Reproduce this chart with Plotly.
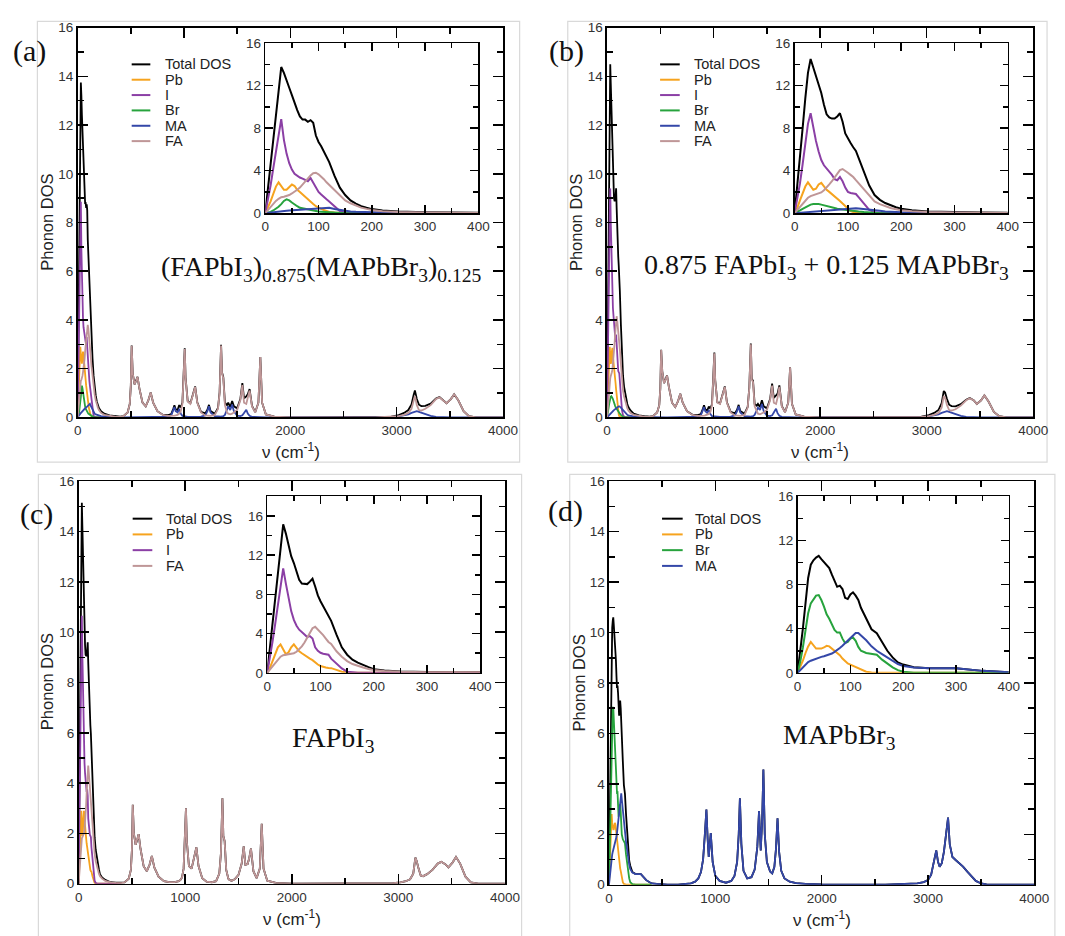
import plotly.graph_objects as go

W, H = 1065, 936

# ---------------- data ----------------
# low-frequency grid (cm^-1), shared by all panels
LOW_X = [0, 5, 10, 15, 20, 25, 30, 35, 40, 45, 50, 55, 60, 65, 70, 75, 80, 85, 90, 95,
         100, 105, 110, 115, 120, 130, 140, 150, 160, 170, 180, 190, 200, 220, 250, 300, 350, 400]

# high-frequency grid for panels (a), (b), (c)
HIGH_X = [430, 470, 490, 500, 508, 518, 535, 550, 563, 580,
          610, 640, 665, 687, 710, 750, 800, 850, 880, 900,
          910, 922, 940, 955, 970, 985, 1000, 1007, 1015, 1035,
          1060, 1085, 1105, 1125, 1160, 1200, 1220, 1235, 1250, 1290,
          1320, 1335, 1349, 1358, 1370, 1385, 1405, 1416, 1435, 1453,
          1470, 1500, 1530, 1549, 1565, 1586, 1600, 1617, 1640, 1670,
          1700, 1718, 1735, 1770, 1850, 2000, 2800, 2950, 3020, 3070,
          3110, 3140, 3160, 3172, 3190, 3210, 3233, 3270, 3320, 3370,
          3403, 3440, 3470, 3510, 3541, 3580, 3630, 3680, 3750, 4000]

# high-frequency grid for panel (d)
D_HIGH_X = [450, 550, 650, 720, 770, 810, 840, 865, 885, 900,
            916, 928, 938, 957, 975, 1000, 1040, 1100, 1150, 1180,
            1205, 1220, 1231, 1245, 1265, 1300, 1340, 1370, 1395, 1411,
            1420, 1427, 1440, 1452, 1465, 1485, 1515, 1535, 1555, 1570,
            1585, 1600, 1620, 1650, 1700, 1760, 1850, 2000, 2600, 2800,
            2900, 2960, 3000, 3030, 3060, 3078, 3095, 3110, 3130, 3150,
            3170, 3189, 3205, 3230, 3260, 3290, 3330, 3370, 3410, 3450,
            3500, 3550, 3650, 4000]

# ---- panel (a): (FAPbI3)0.875(MAPbBr3)0.125 ----
A_TOTAL_LOW = [0, 2.3, 4.7, 7.1, 9.4, 11.8, 13.75, 13.2, 12.4, 11.8, 11.1, 10.3, 9.7, 9.1, 8.8, 8.8, 8.6, 8.75, 8.5, 7.3,
               6.7, 6.3, 5.8, 5.35, 4.8, 3.5, 2.4, 1.7, 1.2, 0.9, 0.65, 0.5, 0.38, 0.25, 0.15, 0.08, 0.05, 0.03]
A_PB_LOW = [0, 0.5, 1.1, 1.8, 2.5, 2.9, 2.6, 2.2, 2.2, 2.5, 2.7, 2.55, 2.2, 2.0, 1.75, 1.55, 1.3, 1.05, 0.85, 0.65,
            0.5, 0.4, 0.3, 0.2, 0.12, 0.05, 0.02, 0, 0, 0, 0, 0, 0, 0, 0, 0, 0, 0]
A_I_LOW = [0, 1.2, 2.6, 4.2, 5.9, 7.6, 8.85, 6.9, 5.6, 4.7, 4.1, 3.7, 3.5, 3.35, 3.25, 3.1, 3.0, 3.3, 2.9, 2.4,
           2.0, 1.75, 1.5, 1.3, 1.1, 0.6, 0.2, 0.05, 0.02, 0, 0, 0, 0, 0, 0, 0, 0, 0]
A_BR_LOW = [0, 0.05, 0.12, 0.25, 0.4, 0.6, 0.85, 1.15, 1.3, 1.2, 1.0, 0.8, 0.65, 0.5, 0.45, 0.35, 0.3, 0.25, 0.2, 0.18,
            0.15, 0.14, 0.12, 0.1, 0.08, 0.05, 0.02, 0, 0, 0, 0, 0, 0, 0, 0, 0, 0, 0]
A_MA_LOW = [0, 0.02, 0.05, 0.08, 0.12, 0.15, 0.18, 0.2, 0.22, 0.25, 0.27, 0.3, 0.32, 0.35, 0.37, 0.38, 0.4, 0.42, 0.42, 0.43,
            0.45, 0.48, 0.52, 0.55, 0.5, 0.4, 0.3, 0.22, 0.15, 0.12, 0.1, 0.08, 0.07, 0.05, 0.04, 0.02, 0.01, 0]
A_FA_LOW = [0, 0.3, 0.6, 0.9, 1.15, 1.35, 1.5, 1.55, 1.6, 1.7, 1.85, 2.0, 2.2, 2.4, 2.7, 3.0, 3.3, 3.55, 3.75, 3.8,
            3.65, 3.45, 3.2, 2.9, 2.65, 2.1, 1.6, 1.2, 0.93, 0.7, 0.52, 0.4, 0.3, 0.18, 0.1, 0.05, 0.03, 0.02]
A_FA_HIGH = [0.05, 0.2, 0.55, 1.3, 2.94, 1.8, 1.35, 1.5, 1.66, 1.2,
             0.6, 0.45, 0.7, 1.02, 0.6, 0.25, 0.1, 0.06, 0.05, 0.06,
             0.07, 0.08, 0.1, 0.15, 0.25, 0.55, 2.0, 2.8, 1.6, 0.65,
             0.55, 0.9, 1.25, 0.6, 0.2, 0.08, 0.06, 0.06, 0.06, 0.1,
             0.35, 1.0, 2.95, 1.8, 1.6, 0.5, 0.2, 0.15, 0.12, 0.15,
             0.2, 0.3, 0.7, 1.32, 0.6, 0.55, 0.8, 1.1, 0.45, 0.2,
             0.6, 2.48, 0.6, 0.12, 0.03, 0.0, 0.0, 0.02, 0.05, 0.1,
             0.18, 0.35, 0.7, 0.88, 0.5, 0.3, 0.28, 0.35, 0.5, 0.75,
             0.82, 0.7, 0.58, 0.75, 0.94, 0.7, 0.25, 0.05, 0.0, 0.0]
A_MA_HIGH = [0, 0, 0, 0, 0, 0, 0, 0, 0, 0,
             0, 0, 0, 0, 0, 0, 0.01, 0.03, 0.08, 0.3,
             0.42, 0.25, 0.2, 0.35, 0.15, 0.06, 0.04, 0.03, 0.03, 0.02,
             0.02, 0.02, 0.02, 0.02, 0.03, 0.08, 0.25, 0.45, 0.2, 0.05,
             0.03, 0.03, 0.03, 0.04, 0.05, 0.1, 0.3, 0.45, 0.3, 0.52,
             0.25, 0.07, 0.05, 0.08, 0.18, 0.31, 0.15, 0.06, 0.02, 0.01,
             0, 0, 0, 0, 0, 0, 0, 0.01, 0.04, 0.08,
             0.12, 0.18, 0.22, 0.24, 0.25, 0.22, 0.18, 0.12, 0.06, 0.02,
             0.01, 0, 0, 0, 0, 0, 0, 0, 0, 0]
A_TOTAL_HIGH = [0.05, 0.2, 0.55, 1.3, 2.95, 1.8, 1.35, 1.5, 1.66, 1.2,
                0.6, 0.45, 0.7, 1.02, 0.6, 0.25, 0.11, 0.09, 0.13, 0.36,
                0.49, 0.33, 0.3, 0.5, 0.4, 0.6, 2.04, 2.83, 1.63, 0.67,
                0.57, 0.92, 1.27, 0.62, 0.23, 0.16, 0.31, 0.51, 0.26, 0.15,
                0.38, 1.03, 2.98, 1.84, 1.65, 0.6, 0.5, 0.6, 0.42, 0.67,
                0.45, 0.37, 0.75, 1.4, 0.78, 0.86, 0.95, 1.16, 0.47, 0.21,
                0.6, 2.48, 0.6, 0.12, 0.03, 0.0, 0.0, 0.03, 0.09, 0.18,
                0.3, 0.53, 0.92, 1.1, 0.75, 0.52, 0.46, 0.47, 0.56, 0.77,
                0.83, 0.7, 0.58, 0.75, 0.94, 0.7, 0.25, 0.05, 0.0, 0.0]

# ---- panel (b): 0.875 FAPbI3 + 0.125 MAPbBr3 ----
B_TOTAL_LOW = [0, 2.5, 5.2, 8.0, 10.8, 13.2, 14.5, 13.7, 12.9, 12.2, 11.3, 10.2, 9.3, 9.0, 8.9, 8.9, 9.1, 9.4, 8.6, 7.5,
               7.0, 6.6, 6.2, 5.85, 5.2, 3.8, 2.6, 1.7, 1.25, 0.95, 0.72, 0.55, 0.42, 0.28, 0.15, 0.08, 0.05, 0.03]
B_PB_LOW = [0, 0.5, 1.2, 1.9, 2.5, 2.9, 2.6, 2.2, 2.3, 2.7, 2.85, 2.5, 2.2, 2.0, 1.8, 1.6, 1.4, 1.15, 0.9, 0.65,
            0.4, 0.2, 0.1, 0.05, 0.02, 0, 0, 0, 0, 0, 0, 0, 0, 0, 0, 0, 0, 0]
B_I_LOW = [0, 1.3, 2.8, 4.6, 6.5, 8.4, 9.4, 8.0, 6.8, 5.8, 5.0, 4.5, 4.2, 3.95, 3.6, 3.2, 3.1, 3.4, 3.0, 2.4,
           2.0, 1.9, 1.85, 1.8, 1.5, 0.85, 0.3, 0.08, 0.02, 0, 0, 0, 0, 0, 0, 0, 0, 0]
B_BR_LOW = [0, 0.1, 0.25, 0.4, 0.55, 0.72, 0.8, 0.85, 0.87, 0.85, 0.8, 0.75, 0.7, 0.62, 0.55, 0.48, 0.42, 0.38, 0.34, 0.3,
            0.27, 0.24, 0.2, 0.17, 0.15, 0.1, 0.05, 0.02, 0, 0, 0, 0, 0, 0, 0, 0, 0, 0]
B_MA_LOW = [0, 0.02, 0.04, 0.06, 0.08, 0.1, 0.12, 0.15, 0.18, 0.2, 0.22, 0.25, 0.27, 0.3, 0.32, 0.34, 0.36, 0.38, 0.4, 0.42,
            0.43, 0.44, 0.45, 0.45, 0.44, 0.4, 0.35, 0.3, 0.22, 0.16, 0.12, 0.1, 0.08, 0.06, 0.04, 0.02, 0.01, 0]
B_FA_LOW = [0, 0.3, 0.6, 0.95, 1.2, 1.45, 1.6, 1.7, 1.75, 1.85, 1.95, 2.15, 2.4, 2.7, 3.0, 3.35, 3.7, 4.05, 4.15, 4.0,
            3.8, 3.6, 3.4, 3.1, 2.8, 2.2, 1.6, 1.1, 0.85, 0.65, 0.48, 0.37, 0.28, 0.18, 0.1, 0.05, 0.03, 0.02]
B_FA_HIGH = [0.05, 0.2, 0.5, 1.2, 2.76, 1.9, 1.4, 1.55, 1.72, 1.25,
             0.6, 0.42, 0.65, 0.97, 0.6, 0.25, 0.1, 0.06, 0.05, 0.06,
             0.07, 0.08, 0.1, 0.14, 0.22, 0.5, 1.9, 2.63, 1.5, 0.6,
             0.55, 0.9, 1.25, 0.6, 0.2, 0.08, 0.06, 0.06, 0.06, 0.1,
             0.4, 1.2, 3.0, 1.55, 1.45, 0.45, 0.2, 0.15, 0.12, 0.15,
             0.2, 0.3, 0.7, 1.3, 0.6, 0.55, 0.8, 1.25, 0.45, 0.2,
             0.6, 2.05, 0.55, 0.12, 0.03, 0.0, 0.0, 0.02, 0.05, 0.1,
             0.18, 0.4, 0.88, 0.8, 0.5, 0.3, 0.28, 0.33, 0.48, 0.7,
             0.78, 0.7, 0.55, 0.7, 0.9, 0.65, 0.22, 0.05, 0.0, 0.0]
B_MA_HIGH = [0, 0, 0, 0, 0, 0, 0, 0, 0, 0,
             0, 0, 0, 0, 0, 0, 0.01, 0.03, 0.08, 0.3,
             0.42, 0.25, 0.18, 0.3, 0.13, 0.05, 0.04, 0.03, 0.03, 0.02,
             0.02, 0.02, 0.02, 0.02, 0.03, 0.08, 0.25, 0.45, 0.2, 0.05,
             0.03, 0.03, 0.03, 0.04, 0.05, 0.1, 0.28, 0.4, 0.3, 0.55,
             0.25, 0.07, 0.05, 0.08, 0.2, 0.35, 0.17, 0.06, 0.02, 0.01,
             0, 0, 0, 0, 0, 0, 0, 0.01, 0.04, 0.08,
             0.12, 0.18, 0.22, 0.24, 0.25, 0.22, 0.18, 0.12, 0.06, 0.02,
             0.01, 0, 0, 0, 0, 0, 0, 0, 0, 0]
B_TOTAL_HIGH = [0.05, 0.2, 0.5, 1.2, 2.77, 1.9, 1.4, 1.55, 1.72, 1.25,
                0.6, 0.42, 0.65, 0.97, 0.6, 0.25, 0.11, 0.09, 0.13, 0.36,
                0.49, 0.33, 0.28, 0.44, 0.35, 0.55, 1.94, 2.66, 1.53, 0.62,
                0.57, 0.92, 1.27, 0.62, 0.23, 0.16, 0.31, 0.51, 0.26, 0.15,
                0.43, 1.23, 3.03, 1.59, 1.5, 0.55, 0.48, 0.55, 0.42, 0.7,
                0.45, 0.37, 0.75, 1.38, 0.8, 0.9, 0.97, 1.31, 0.47, 0.21,
                0.6, 2.05, 0.55, 0.12, 0.03, 0.0, 0.0, 0.03, 0.09, 0.18,
                0.3, 0.58, 1.08, 1.02, 0.75, 0.52, 0.46, 0.45, 0.54, 0.72,
                0.79, 0.7, 0.55, 0.7, 0.9, 0.65, 0.22, 0.05, 0.0, 0.0]

# ---- panel (c): FAPbI3 ----
C_TOTAL_LOW = [0, 2.6, 5.3, 8.0, 10.6, 13.2, 15.15, 14.2, 13.1, 11.9, 11.2, 10.3, 9.5, 9.1, 9.05, 9.05, 9.3, 9.6, 8.8, 7.9,
               7.3, 6.8, 6.3, 5.95, 5.3, 3.9, 2.6, 1.85, 1.35, 1.05, 0.78, 0.58, 0.38, 0.25, 0.15, 0.06, 0.04, 0.03]
C_PB_LOW = [0, 0.5, 1.2, 2.0, 2.6, 2.9, 2.4, 1.9, 2.1, 2.6, 2.9, 2.55, 2.2, 2.0, 1.8, 1.6, 1.45, 1.3, 1.05, 0.85,
            0.7, 0.6, 0.55, 0.5, 0.48, 0.3, 0.12, 0.03, 0, 0, 0, 0, 0, 0, 0, 0, 0, 0]
C_I_LOW = [0, 1.5, 3.2, 5.0, 7.0, 9.0, 10.65, 9.1, 7.7, 6.3, 5.4, 4.8, 4.4, 4.1, 3.9, 3.65, 3.75, 3.5, 2.6, 2.25,
           2.05, 1.95, 1.9, 1.85, 1.45, 0.9, 0.45, 0.12, 0.03, 0, 0, 0, 0, 0, 0, 0, 0, 0]
C_FA_LOW = [0, 0.35, 0.7, 1.05, 1.4, 1.65, 1.8, 1.85, 1.9, 1.95, 2.0, 2.15, 2.4, 2.7, 3.1, 3.6, 4.1, 4.55, 4.7, 4.45,
            4.15, 3.85, 3.5, 3.15, 2.95, 2.2, 1.65, 1.2, 0.9, 0.7, 0.55, 0.4, 0.3, 0.2, 0.11, 0.05, 0.03, 0.02]
C_FA_HIGH = [0.05, 0.2, 0.55, 1.35, 3.14, 2.0, 1.55, 1.75, 1.97, 1.4,
             0.7, 0.5, 0.75, 1.1, 0.65, 0.28, 0.1, 0.06, 0.05, 0.06,
             0.07, 0.08, 0.1, 0.15, 0.25, 0.6, 2.3, 3.0, 1.7, 0.7,
             0.6, 1.05, 1.45, 0.7, 0.22, 0.08, 0.06, 0.06, 0.06, 0.1,
             0.4, 1.2, 3.4, 1.9, 1.69, 0.55, 0.2, 0.15, 0.12, 0.15,
             0.2, 0.35, 0.8, 1.49, 0.75, 0.78, 1.0, 1.4, 0.5, 0.22,
             0.6, 2.38, 0.6, 0.12, 0.03, 0.0, 0.0, 0.02, 0.05, 0.1,
             0.18, 0.4, 1.04, 0.9, 0.6, 0.33, 0.3, 0.38, 0.55, 0.8,
             0.87, 0.78, 0.65, 0.85, 1.06, 0.8, 0.28, 0.05, 0.0, 0.0]
# above 400 cm-1 the total DOS of FAPbI3 coincides with the FA DOS
C_TOTAL_HIGH = C_FA_HIGH

# ---- panel (d): MAPbBr3 ----
D_TOTAL_LOW = [0, 1.8, 4.0, 6.3, 8.6, 9.8, 10.2, 10.45, 10.6, 10.3, 10.0, 9.8, 9.5, 8.9, 8.3, 7.8, 7.9, 7.6, 6.8, 6.7,
               7.1, 7.3, 7.0, 6.6, 5.9, 4.9, 3.95, 3.6, 2.8, 2.0, 1.4, 0.95, 0.75, 0.5, 0.42, 0.42, 0.18, 0.05]
D_PB_LOW = [0, 0.5, 1.1, 1.8, 2.4, 2.8, 2.45, 2.2, 2.2, 2.2, 2.3, 2.45, 2.4, 2.2, 2.0, 1.85, 1.6, 1.3, 1.05, 0.85,
            0.75, 0.65, 0.55, 0.4, 0.28, 0.1, 0.03, 0, 0, 0, 0, 0, 0, 0, 0, 0, 0, 0]
D_BR_LOW = [0, 1.0, 2.3, 3.8, 5.4, 6.3, 6.7, 7.0, 7.05, 6.6, 6.0, 5.3, 4.9, 4.4, 3.9, 3.65, 3.66, 3.1, 2.7, 2.8,
            3.1, 3.2, 2.9, 2.35, 2.0, 1.8, 1.7, 1.64, 1.2, 0.85, 0.5, 0.25, 0.1, 0.02, 0, 0, 0, 0]
D_MA_LOW = [0, 0.25, 0.5, 0.75, 0.98, 1.1, 1.2, 1.3, 1.38, 1.45, 1.5, 1.57, 1.64, 1.75, 1.9, 2.05, 2.25, 2.45, 2.7, 2.95,
            3.2, 3.45, 3.62, 3.62, 3.4, 2.95, 2.4, 2.0, 1.7, 1.4, 1.05, 0.8, 0.62, 0.48, 0.42, 0.42, 0.18, 0.05]
D_MA_HIGH = [0.03, 0.0, 0.0, 0.02, 0.05, 0.12, 0.25, 0.5, 1.0, 1.9,
             2.98, 1.8, 1.1, 2.05, 0.9, 0.35, 0.15, 0.08, 0.15, 0.35,
             0.9, 2.0, 3.43, 1.6, 0.55, 0.25, 0.3, 0.6, 1.5, 2.92,
             1.8, 1.36, 2.5, 4.57, 2.0, 0.9, 0.52, 0.45, 0.7, 1.4,
             2.63, 1.3, 0.55, 0.25, 0.12, 0.06, 0.03, 0.01, 0.0, 0.02,
             0.05, 0.1, 0.18, 0.4, 0.95, 1.36, 0.9, 0.71, 0.85, 1.3,
             2.0, 2.66, 1.6, 1.1, 0.98, 0.88, 0.72, 0.52, 0.32, 0.15,
             0.05, 0.01, 0.0, 0.0]
# above 400 cm-1 the total DOS of MAPbBr3 coincides with the MA DOS
D_TOTAL_HIGH = D_MA_HIGH

COLORS = {"Total DOS": "#000000", "Pb": "#f6a31e", "I": "#8b3fa5",
          "Br": "#27a33d", "MA": "#3447a8", "FA": "#bf9697"}

LABELS = ["(FAPbI<sub>3</sub>)<sub>0.875</sub>(MAPbBr<sub>3</sub>)<sub>0.125</sub>",
          "0.875 FAPbI<sub>3</sub> + 0.125 MAPbBr<sub>3</sub>",
          "FAPbI<sub>3</sub>",
          "MAPbBr<sub>3</sub>"]

PANELS = [
    dict(tag="(a)", series=[("Total DOS", A_TOTAL_LOW, HIGH_X, A_TOTAL_HIGH), ("Pb", A_PB_LOW, None, None),
                            ("I", A_I_LOW, None, None), ("Br", A_BR_LOW, None, None),
                            ("MA", A_MA_LOW, HIGH_X, A_MA_HIGH), ("FA", A_FA_LOW, HIGH_X, A_FA_HIGH)],
         main=(75, 508, 21, 417), inset=(266, 483, 36.7, 209.5), iymax=16,
         border=(34, 525, 14.7, 462.6), tagpos=(26, 45), label=(323, 266),
         leg=(130, 149, 162, 58.3, 15.6), ytitle=(44, 219), xtitle=(292, 451)),
    dict(tag="(b)", series=[("Total DOS", B_TOTAL_LOW, HIGH_X, B_TOTAL_HIGH), ("Pb", B_PB_LOW, None, None),
                            ("I", B_I_LOW, None, None), ("Br", B_BR_LOW, None, None),
                            ("MA", B_MA_LOW, HIGH_X, B_MA_HIGH), ("FA", B_FA_LOW, HIGH_X, B_FA_HIGH)],
         main=(614, 1048, 21, 417), inset=(805, 1022, 36.7, 209.5), iymax=16,
         border=(574, 1062, 14.7, 462.6), tagpos=(573, 45), label=(837, 264),
         leg=(668, 688, 700, 58.3, 15.6), ytitle=(583, 219), xtitle=(831, 451)),
    dict(tag="(c)", series=[("Total DOS", C_TOTAL_LOW, HIGH_X, C_TOTAL_HIGH), ("Pb", C_PB_LOW, None, None),
                            ("I", C_I_LOW, None, None), ("FA", C_FA_LOW, HIGH_X, C_FA_HIGH)],
         main=(76, 510, 482, 891), inset=(268, 485, 497.3, 676.7), iymax=18,
         border=(35, 527, 475, 945), tagpos=(33, 515), label=(335, 744),
         leg=(131, 151, 163, 520, 16.0), ytitle=(44, 686), xtitle=(293, 926)),
    dict(tag="(d)", series=[("Total DOS", D_TOTAL_LOW, D_HIGH_X, D_TOTAL_HIGH), ("Pb", D_PB_LOW, None, None),
                            ("Br", D_BR_LOW, None, None), ("MA", D_MA_LOW, D_HIGH_X, D_MA_HIGH)],
         main=(616, 1049, 482, 892), inset=(808, 1023, 497.3, 676.7), iymax=16,
         border=(576, 1070, 475, 945), tagpos=(572, 512), label=(851, 741),
         leg=(670, 691, 702, 520, 16.0), ytitle=(585, 687), xtitle=(833, 927)),
]


def fx(px):
    return px / W


def fy(py):
    return 1 - py / H


TICKFONT = dict(family="Liberation Sans, Arial, sans-serif", size=13.5, color="#333333")
AXLINE = dict(showline=True, linecolor="black", linewidth=1.6, mirror="allticks",
              ticks="inside", tickcolor="black", tickwidth=1.5, showgrid=False,
              zeroline=False, tickfont=TICKFONT, fixedrange=True)

fig = go.Figure()
layout = dict(width=W, height=H, margin=dict(l=0, r=0, t=0, b=0),
              paper_bgcolor="white", plot_bgcolor="white", showlegend=False)
shapes, annotations = [], []

for k, p in enumerate(PANELS):
    im, ii = 2 * k + 1, 2 * k + 2
    sm = "" if im == 1 else str(im)
    si = str(ii)
    x0, x1, y0, y1 = p["main"]
    layout["xaxis" + sm] = dict(domain=[fx(x0), fx(x1)], anchor="y" + sm, range=[0, 4000],
                                tick0=0, dtick=1000, ticklen=10,
                                minor=dict(dtick=500, ticklen=6, tickcolor="black", tickwidth=1.5, ticks="inside"),
                                **AXLINE)
    layout["yaxis" + sm] = dict(domain=[fy(y1), fy(y0)], anchor="x" + sm, range=[0, 16],
                                tick0=0, dtick=2, ticklen=10,
                                minor=dict(dtick=1, ticklen=6, tickcolor="black", tickwidth=1.5, ticks="inside"),
                                **AXLINE)
    ix0, ix1, iy0, iy1 = p["inset"]
    layout["xaxis" + si] = dict(domain=[fx(ix0), fx(ix1)], anchor="y" + si, range=[0, 400],
                                tick0=0, dtick=100, ticklen=8,
                                minor=dict(dtick=50, ticklen=5, tickcolor="black", tickwidth=1.5, ticks="inside"),
                                **AXLINE)
    layout["yaxis" + si] = dict(domain=[fy(iy1), fy(iy0)], anchor="x" + si, range=[0, p["iymax"]],
                                tick0=0, dtick=4, ticklen=8,
                                minor=dict(dtick=2, ticklen=5, tickcolor="black", tickwidth=1.5, ticks="inside"),
                                **AXLINE)

    for name, low, hx, hy in p["series"]:
        xs = LOW_X + (hx if hx else [])
        ys = low + (hy if hy else [])
        fig.add_trace(go.Scatter(x=xs, y=ys, mode="lines", name=name, xaxis="x" + sm, yaxis="y" + sm,
                                 line=dict(color=COLORS[name], width=1.8), hoverinfo="skip"))
        fig.add_trace(go.Scatter(x=LOW_X, y=low, mode="lines", name=name, xaxis="x" + si, yaxis="y" + si,
                                 line=dict(color=COLORS[name], width=2.0), hoverinfo="skip"))

    # light panel frame
    bx0, bx1, by0, by1 = p["border"]
    shapes.append(dict(type="rect", xref="paper", yref="paper", x0=fx(bx0), x1=fx(bx1),
                       y0=fy(by1), y1=fy(by0), line=dict(color="#d9d9d9", width=1.2), layer="below"))

    # legend
    lx0, lx1, tx, ly, dy = p["leg"]
    for j, (name, *_rest) in enumerate(p["series"]):
        yy = ly + j * dy
        shapes.append(dict(type="line", xref="paper", yref="paper", x0=fx(lx0), x1=fx(lx1),
                           y0=fy(yy), y1=fy(yy), line=dict(color=COLORS[name], width=2)))
        annotations.append(dict(text=name, x=fx(tx), y=fy(yy), xref="paper", yref="paper",
                                xanchor="left", yanchor="middle", showarrow=False,
                                font=dict(family="Liberation Sans, Arial, sans-serif", size=14.5, color="#222")))

    # panel tag
    annotations.append(dict(text=p["tag"], x=fx(p["tagpos"][0]), y=fy(p["tagpos"][1]), xref="paper", yref="paper",
                            xanchor="center", yanchor="middle", showarrow=False,
                            font=dict(family="Liberation Serif, Times New Roman, serif", size=30, color="#111")))
    # compound label
    annotations.append(dict(text=LABELS[k], x=fx(p["label"][0]), y=fy(p["label"][1]), xref="paper", yref="paper",
                            xanchor="center", yanchor="middle", showarrow=False,
                            font=dict(family="Liberation Serif, Times New Roman, serif", size=28, color="#111")))
    # axis titles
    annotations.append(dict(text="Phonon DOS", x=fx(p["ytitle"][0]), y=fy(p["ytitle"][1]), xref="paper",
                            yref="paper", textangle=-90, xanchor="center", yanchor="middle", showarrow=False,
                            font=dict(family="Liberation Sans, Arial, sans-serif", size=16.5, color="#222")))
    annotations.append(dict(text="\u03bd (cm<sup>-1</sup>)", x=fx(p["xtitle"][0]), y=fy(p["xtitle"][1]),
                            xref="paper", yref="paper", xanchor="center", yanchor="middle", showarrow=False,
                            font=dict(family="Liberation Sans, Arial, sans-serif", size=17, color="#222")))

layout["shapes"] = shapes
layout["annotations"] = annotations
fig.update_layout(**layout)
fig.write_html("out.html",
               config={"displayModeBar": False, "staticPlot": True},
               post_script="document.body.style.margin='0';document.body.style.overflow='hidden';")
